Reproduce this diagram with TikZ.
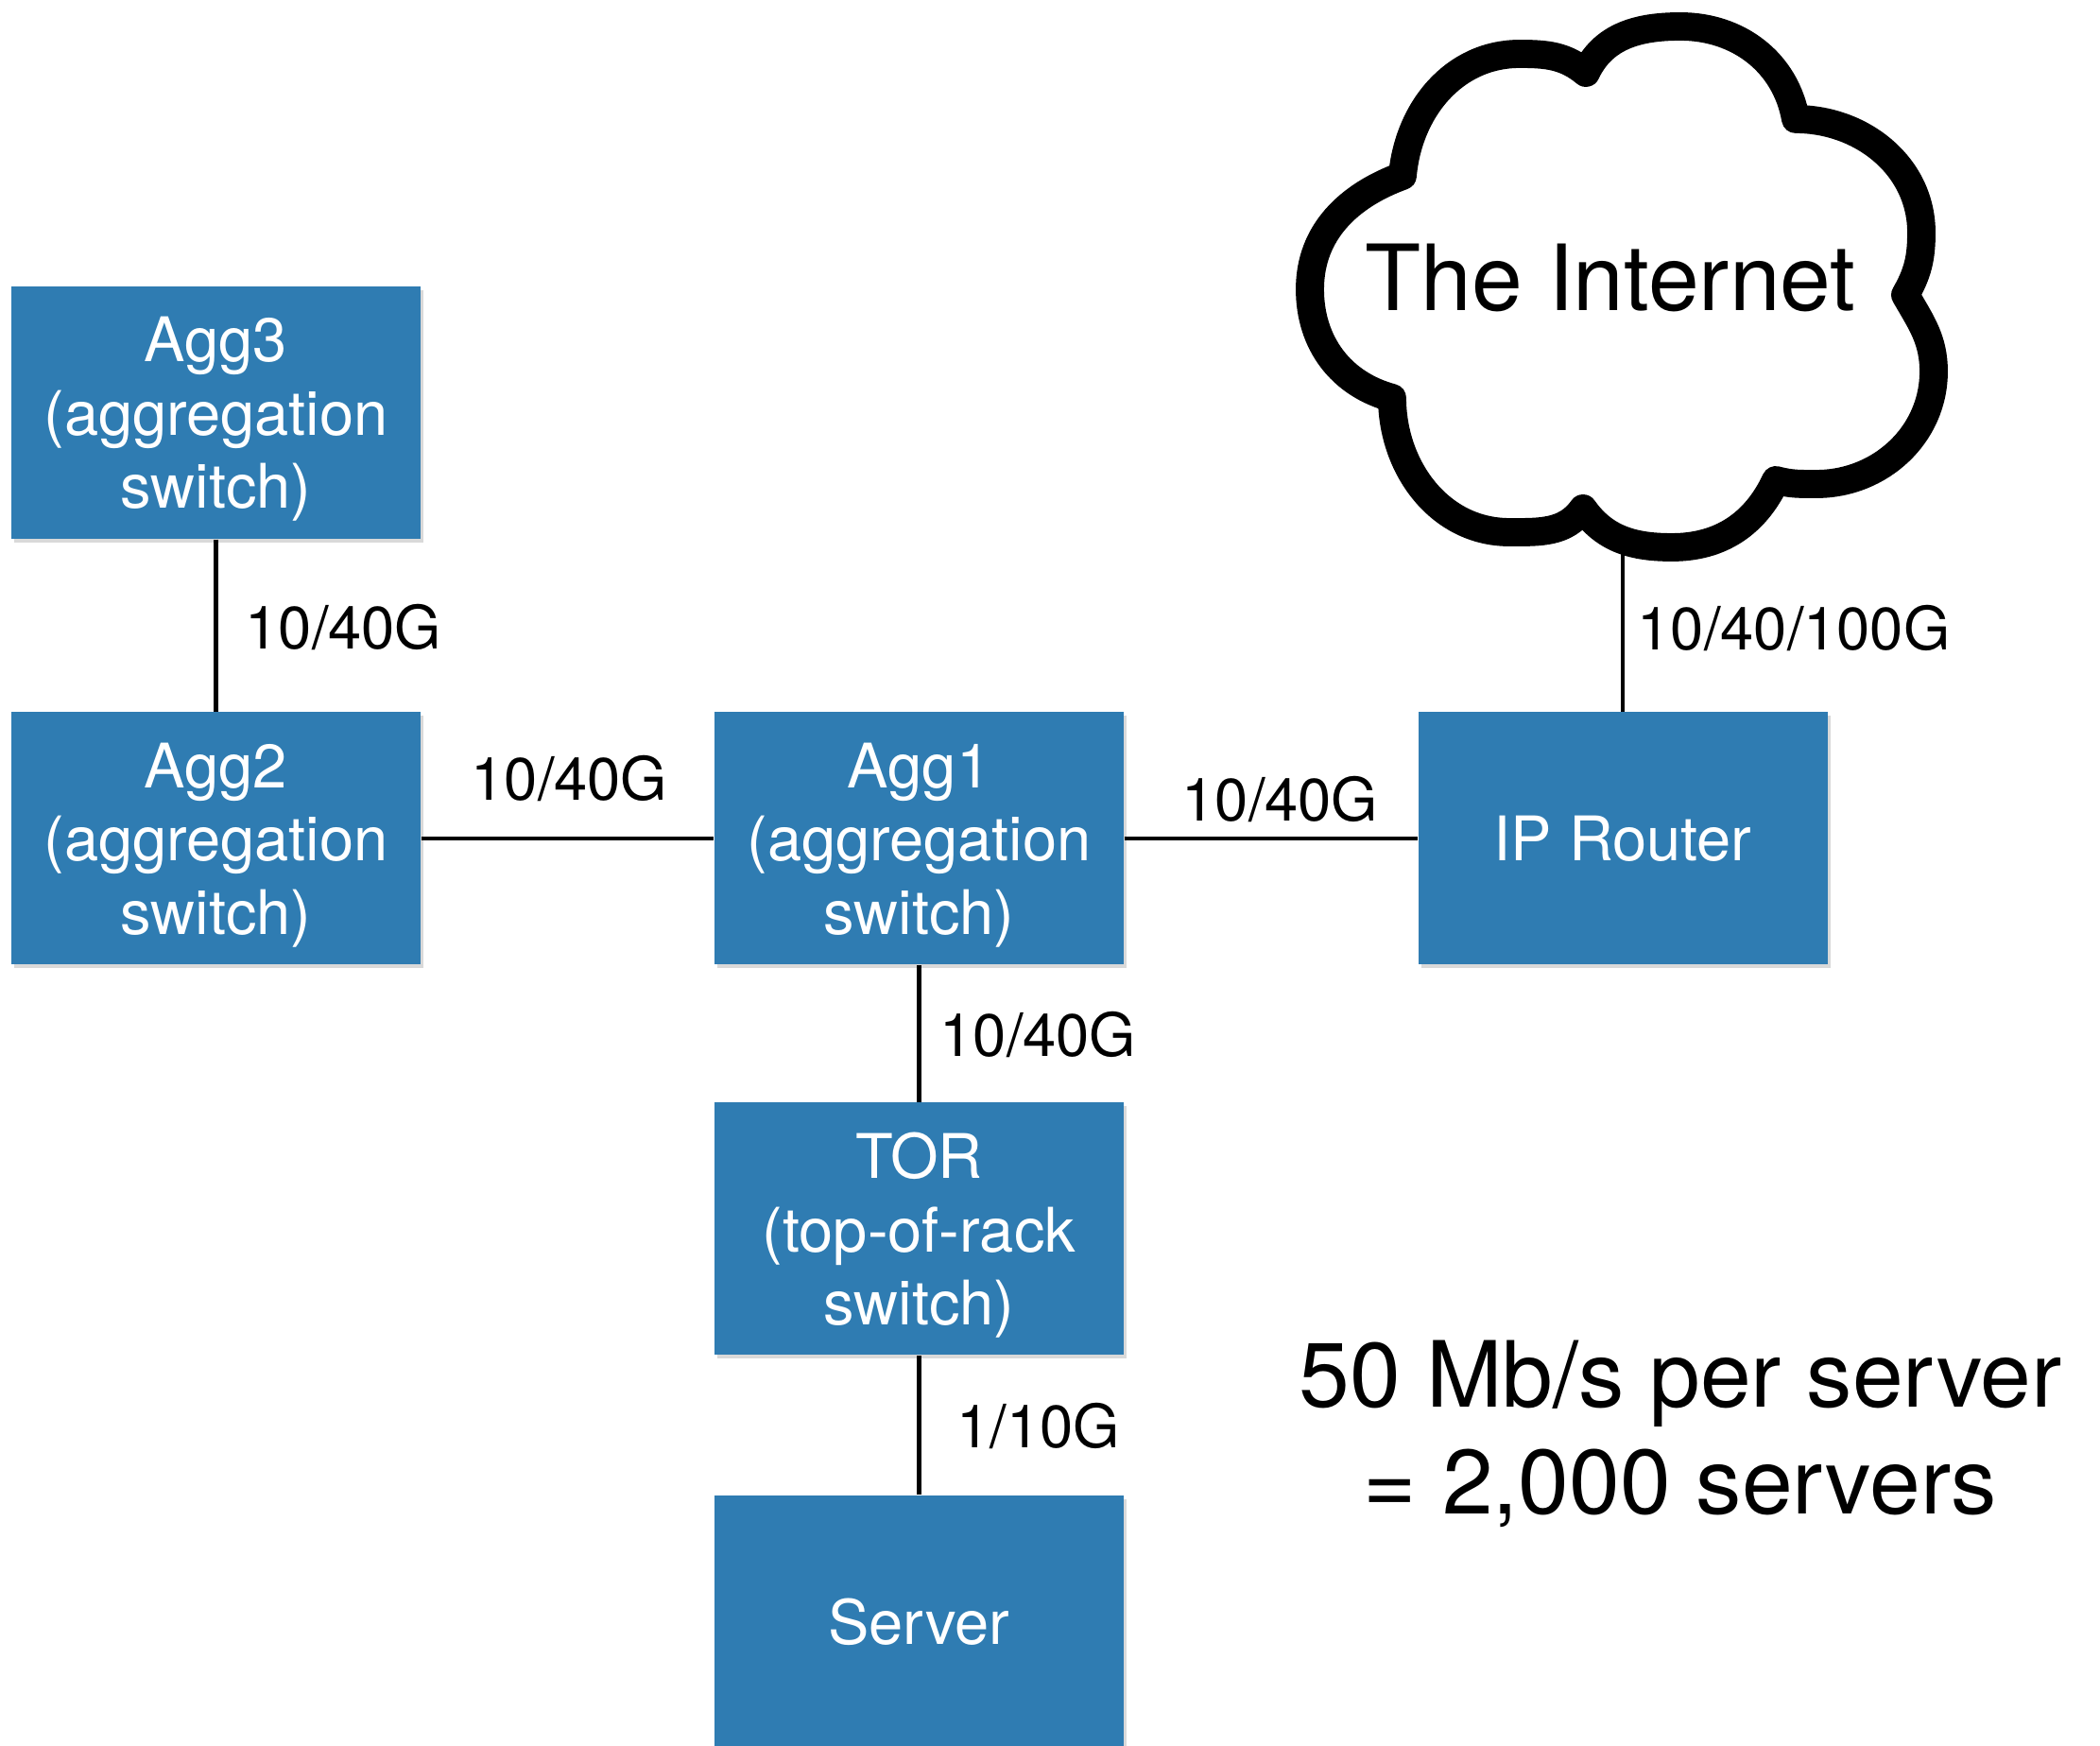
\documentclass[tikz,border=0pt]{standalone}
\usepackage{fontspec}
\setmainfont{TeX Gyre Heros}
\usetikzlibrary{shadows}
\definecolor{boxblue}{RGB}{47,124,178}

\begin{document}
\begin{tikzpicture}[box/.style = {fill=boxblue, text=white, align=center,
        minimum width=4.33cm, minimum height=2.67cm, inner sep=0pt,
        text depth=-0.06cm, font=\fontsize{18.5}{22}\selectfont,
        drop shadow={opacity=0.3, shadow xshift=0.03cm, shadow yshift=-0.04cm}},
    link/.style = {line width=1.3pt},
    speed/.style = {anchor=base west, inner sep=0pt, font=\fontsize{18}{22}\selectfont}]
    \useasboundingbox (0,0) rectangle (22.22,18.47);

    % switches and hosts
    \node[box] (agg3) at (2.285,14.105) {Agg3\\(aggregation\\switch)};
    \node[box] (agg2) at (2.285,9.60) {Agg2\\(aggregation\\switch)};
    \node[box] (agg1) at (9.725,9.60) {Agg1\\(aggregation\\switch)};
    \node[box] (router) at (17.17,9.60) {IP Router};
    \node[box] (tor) at (9.725,5.47) {TOR\\(top-of-rack\\switch)};
    \node[box] (server) at (9.725,1.315) {Server};

    % links
    \coordinate (cloudfoot) at (17.17,13.3);
    \draw[link] (agg3) -- (agg2);
    \draw[link] (agg2) -- (agg1);
    \draw[link] (agg1) -- (router);
    \draw[link] (agg1) -- (tor);
    \draw[link] (tor) -- (server);
    \draw[link] (router) -- (cloudfoot);

    \node[speed] (s32) at (2.59,11.60) {10/40G};
    \node[speed] (s21) at (4.98,10.00) {10/40G};
    \node[speed] (s1r) at (12.50,9.78) {10/40G};
    \node[speed] (sri) at (17.32,11.59) {10/40/100G};
    \node[speed] (s1t) at (9.94,7.29) {10/40G};
    \node[speed] (sts) at (10.12,3.15) {1/10G};

    % the cloud
    \draw[line width=8.5pt, line join=round, fill=white]
        (14.84,16.61) to[out=85,in=180] (16.08,17.90) to[out=0,in=140] (16.78,17.70)
        to[out=65,in=180] (17.78,18.19) to[out=0,in=100] (19.00,17.21)
        to[out=0,in=90] (20.33,16.01) to[out=-90,in=60] (20.16,15.35)
        to[out=-60,in=90] (20.46,14.54) to[out=-90,in=0] (19.22,13.35)
        to[out=180,in=-15] (18.79,13.39)
        to[out=-115,in=0] (17.69,12.68) to[out=180,in=-55] (16.75,13.09)
        to[out=-125,in=0] (15.97,12.84) to[out=180,in=-90] (14.73,14.26)
        to[out=165,in=-90] (13.86,15.41) to[out=90,in=200] (14.84,16.61) -- cycle;
    \node[anchor=base, font=\fontsize{27.5}{32}\selectfont] (inet) at (17.04,15.18) {The Internet};

    \node[align=center, font=\fontsize{27.5}{32}\selectfont] (note) at (17.78,3.30)
        {50 Mb/s per server\\= 2,000 servers};
\end{tikzpicture}
\end{document}
